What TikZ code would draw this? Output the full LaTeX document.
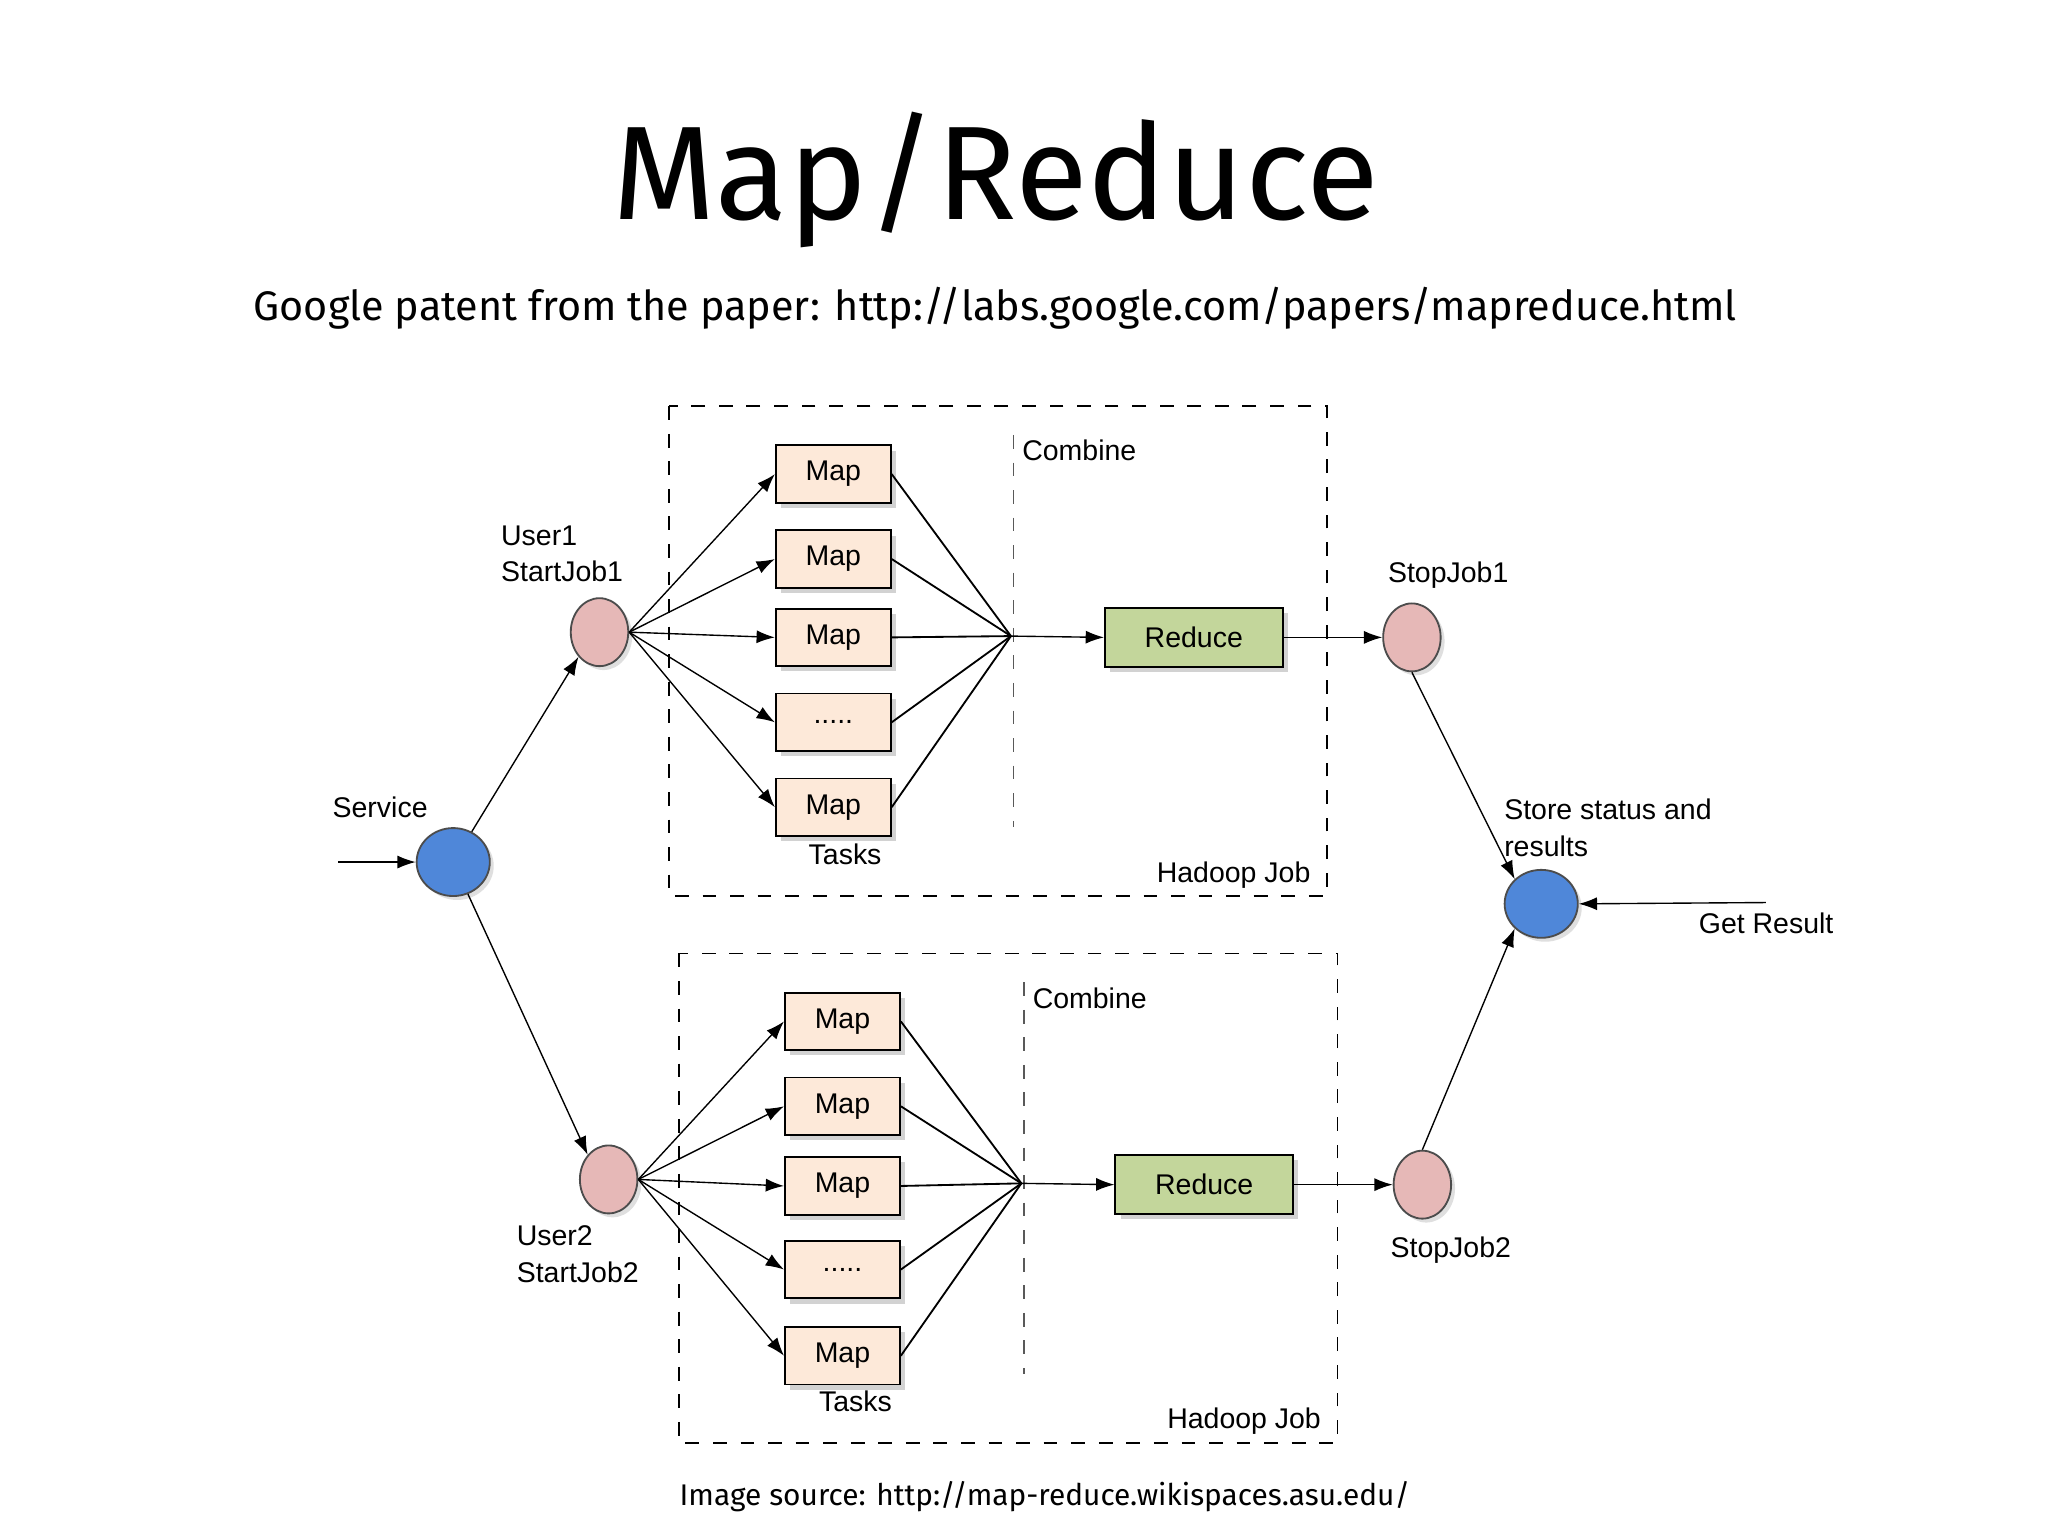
\documentclass[tikz,border=0pt]{standalone}
\usepackage{fontspec}
\setmainfont{Liberation Sans}
\newfontfamily\titlefont{Fira Sans}
\usetikzlibrary{arrows.meta,shadows,shapes.geometric}
\newcommand\mydots{.....}
\definecolor{nblue}{HTML}{4F87D9}
\definecolor{npink}{HTML}{E6B8B7}
\definecolor{nmap}{HTML}{FDE9D9}
\definecolor{nred}{HTML}{C3D69B}
\begin{document}
\begin{tikzpicture}[x=0.01cm,y=-0.01cm,
 mapbox/.style={draw,fill=nmap,minimum width=0.88cm,minimum height=0.44cm,drop shadow={shadow xshift=0.04cm,shadow yshift=-0.04cm,fill=gray!70},font=\fontsize{6.2}{7}\selectfont},
 redbox/.style={mapbox,fill=nred,minimum width=1.36cm,minimum height=0.45cm},
 pinknode/.style={ellipse,draw=gray!60!black,fill=npink,minimum width=0.44cm,minimum height=0.52cm,inner sep=0pt,drop shadow={shadow xshift=0.03cm,shadow yshift=-0.03cm,fill=gray!50}},
 bluenode/.style={ellipse,draw=black!70,fill=nblue,minimum width=0.56cm,minimum height=0.52cm,inner sep=0pt,drop shadow={shadow xshift=0.03cm,shadow yshift=-0.03cm,fill=gray!50}},
 arr/.style={-{Latex[length=0.14cm,width=0.1cm]},line width=0.3pt},
 lbl/.style={font=\fontsize{6.2}{8}\selectfont,inner sep=0pt}]
\useasboundingbox (0,0) rectangle (1568,1175);
\node[font=\titlefont\fontsize{29}{31}\selectfont] (title) at (762,138) {Map/Reduce};
\node[font=\titlefont\fontsize{9}{10}\selectfont] (sub) at (762,236) {Google patent from the paper: http://labs.google.com/papers/mapreduce.html};
\node[font=\titlefont\fontsize{6.5}{8}\selectfont] (src) at (800,1146) {Image source: http://map-reduce.wikispaces.asu.edu/};
% boxes
\draw[dashed] (512,311) rectangle (1016,686);
\draw[dashed] (520,730) rectangle (1024,1105);
\draw[dashed,gray!70!black] (776,333) -- (776,633);
\draw[dashed,gray!70!black] (784,752) -- (784,1052);
\node[lbl,anchor=west] (c1) at (782,345) {Combine};
\node[lbl,anchor=west] (c2) at (790,764) {Combine};
\node[lbl,anchor=west] (h1) at (885,670) {Hadoop Job};
\node[lbl,anchor=west] (h2) at (893,1088) {Hadoop Job};
% nodes
\node[bluenode] (svc) at (347,660) {};
\node[bluenode] (store) at (1180,692) {};
\node[pinknode] (u1) at (459,484) {};
\node[pinknode] (u2) at (466,903) {};
\node[pinknode] (s1) at (1081,488) {};
\node[pinknode] (s2) at (1089,907) {};
\coordinate (k1) at (774,487);
\coordinate (k2) at (782,906);
\node[redbox] (r1) at (914,488) {Reduce};
\node[redbox] (r2) at (922,907) {Reduce};
\foreach \i/\y/\t in {1/363/Map,2/428/Map,3/488/Map,4/553/\mydots,5/618/Map}{
 \node[mapbox] (a\i) at (638,\y) {\t};
 \draw[arr] (u1.east) -- (a\i.west);
 \draw (a\i.east) -- (k1);
}
\foreach \i/\y/\t in {1/782/Map,2/847/Map,3/908/Map,4/972/\mydots,5/1038/Map}{
 \node[mapbox] (b\i) at (645,\y) {\t};
 \draw[arr] (u2.east) -- (b\i.west);
 \draw (b\i.east) -- (k2);
}
\node[lbl] (t1) at (647,654) {Tasks};
\node[lbl] (t2) at (655,1073) {Tasks};
\draw[arr] (k1) -- (r1.west);
\draw[arr] (k2) -- (r2.west);
\draw[arr] (r1.east) -- (s1.west);
\draw[arr] (r2.east) -- (s2.west);
\coordinate (in) at (259,660);
\coordinate (gr) at (1352,691);
\draw[arr] (in) -- (svc.west);
\draw[arr] (svc) -- (u1.south west);
\draw[arr] (svc) -- (u2.north west);
\draw[arr] (s1.south) -- (store.north west);
\draw[arr] (s2.north) -- (store.south west);
\draw[arr] (gr) -- (store.east);
% labels
\node[lbl,anchor=west,align=left] (lu1) at (383,424) {User1\\StartJob1};
\node[lbl,anchor=west,align=left] (lu2) at (395,960) {User2\\StartJob2};
\node[lbl,anchor=west] (ls) at (254,618) {Service};
\node[lbl,anchor=west] (ls1) at (1062,440) {StopJob1};
\node[lbl,anchor=west] (ls2) at (1064,957) {StopJob2};
\node[lbl,anchor=west,align=left] (lst) at (1151,634) {Store status and\\results};
\node[lbl,anchor=west] (lg) at (1300,707) {Get Result};
\end{tikzpicture}
\end{document}
